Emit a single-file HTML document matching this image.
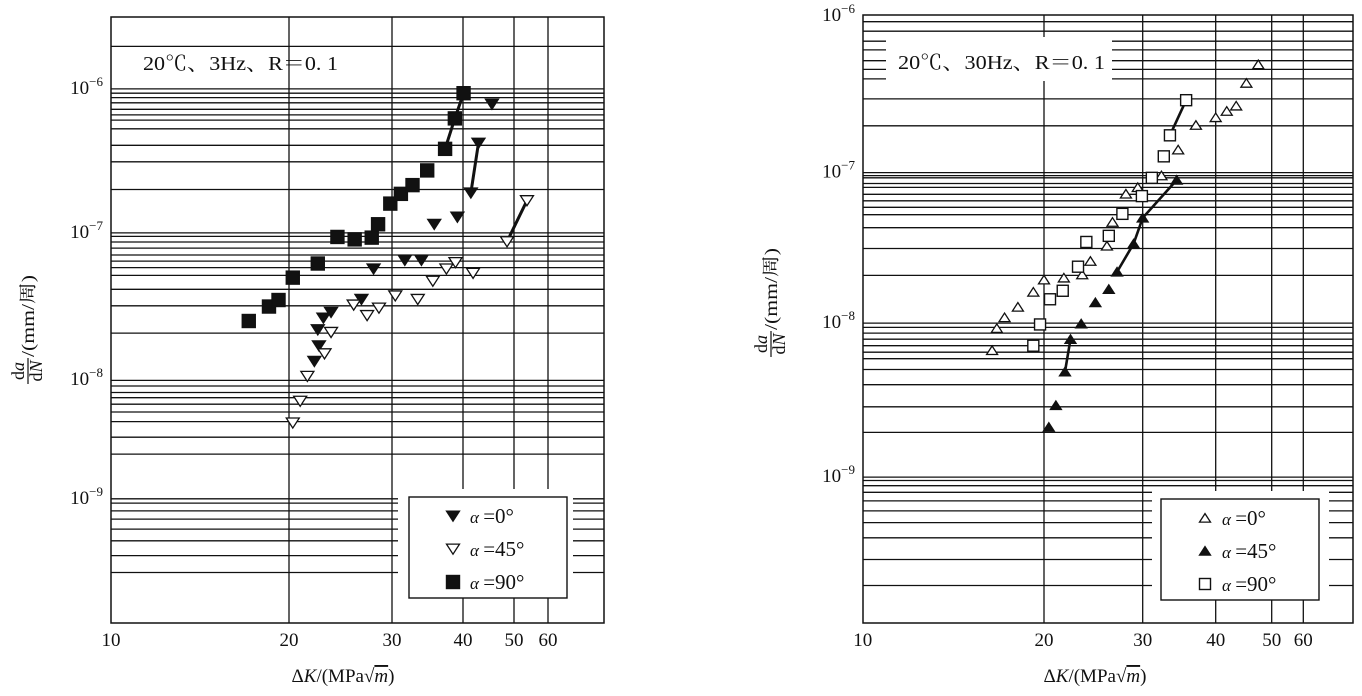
<!DOCTYPE html>
<html><head><meta charset="utf-8"><style>
html,body{margin:0;padding:0;background:#fff;}
svg{display:block;font-family:"Liberation Serif","Noto Serif CJK SC",serif;}
</style></head><body>
<svg id="fig" width="1362" height="696" viewBox="0 0 1362 696" xmlns="http://www.w3.org/2000/svg">
<rect x="0" y="0" width="1362" height="696" fill="#fff"/>
<g id="left"></g>
<g id="right"></g>
</svg>
<script>
// ---- data: left chart (3Hz) ----
const leftK0 = [45.4,42.8,41.4,39.1,35.6,33.8,31.6,27.9,26.6,23.6,22.9,22.4,22.5,22.1];
const leftRate0 = [7.86e-7,4.21e-7,1.9e-7,1.29e-7,1.15e-7,6.53e-8,6.53e-8,5.7e-8,3.54e-8,2.89e-8,2.64e-8,2.2e-8,1.71e-8,1.34e-8];
const leftK45 = [20.3,20.9,21.5,23.0,23.6,25.8,27.2,28.5,30.4,33.3,35.4,37.4,38.8,41.8,48.5,53.6];
const leftRate45 = [4.36e-9,6.64e-9,1.06e-8,1.51e-8,2.11e-8,3.24e-8,2.75e-8,3.09e-8,3.74e-8,3.54e-8,4.71e-8,5.7e-8,6.3e-8,5.33e-8,8.74e-8,1.68e-7];
const leftK90 = [17.1,18.5,19.2,20.3,22.4,24.2,25.9,27.7,28.4,29.8,31.1,32.6,34.6,37.2,38.7,40.1];
const leftRate90 = [2.52e-8,3.16e-8,3.5e-8,4.97e-8,6.2e-8,9.4e-8,9.05e-8,9.3e-8,1.15e-7,1.6e-7,1.87e-7,2.15e-7,2.72e-7,3.84e-7,6.25e-7,9.35e-7];
// ---- data: right chart (30Hz) ----
const rightK0 = [16.4,16.7,17.2,18.1,19.2,20.0,21.7,23.4,24.2,25.9,26.5,28.0,29.4,32.3,34.5,37.0,40.0,41.8,43.4,45.2,47.4];
const rightRate0 = [6.65e-9,9.25e-9,1.09e-8,1.28e-8,1.61e-8,1.94e-8,2.0e-8,2.1e-8,2.58e-8,3.26e-8,4.69e-8,7.22e-8,7.98e-8,9.55e-8,1.4e-7,2.01e-7,2.25e-7,2.47e-7,2.67e-7,3.73e-7,4.9e-7];
const rightK45 = [20.4,21.0,21.8,22.3,23.3,24.7,26.1,27.0,28.9,30.0,34.3];
const rightRate45 = [2.11e-9,2.92e-9,4.83e-9,7.86e-9,9.9e-9,1.37e-8,1.68e-8,2.19e-8,3.37e-8,5.0e-8,8.93e-8];
const rightK90 = [19.2,19.7,20.5,21.6,23.0,23.8,26.1,27.6,29.9,31.1,32.6,33.4,35.6];
const rightRate90 = [7.13e-9,9.8e-9,1.44e-8,1.64e-8,2.37e-8,3.46e-8,3.8e-8,5.32e-8,6.98e-8,9.23e-8,1.27e-7,1.73e-7,2.9e-7];
// tick labels
const xTickValues = [10,20,30,40,50,60];
const xTickLabels = ["10","20","30","40","50","60"];
const yTickValues = [1e-6,1e-7,1e-8,1e-9];
const yTickExps = ["−6","−7","−8","−9"];

const NS="http://www.w3.org/2000/svg";
function mk(tag,attrs,parent){const e=document.createElementNS(NS,tag);for(const k in attrs)e.setAttribute(k,attrs[k]);if(parent)parent.appendChild(e);return e;}
function logScale(vals,px){
  const lv=vals.map(v=>Math.log10(v));
  return function(v){
    const l=Math.log10(v);let i=0;
    if((lv[1]-lv[0])>0){while(i<lv.length-2&&l>lv[i+1])i++;}
    else{while(i<lv.length-2&&l<lv[i+1])i++;}
    return px[i]+(l-lv[i])/(lv[i+1]-lv[i])*(px[i+1]-px[i]);
  };
}

function chart(g,cfg){
  const X=logScale(xTickValues,cfg.xPx), Y=logScale(yTickValues,cfg.yPx);
  const st={stroke:"#111","stroke-width":1.3,fill:"none"};
  cfg.grid.forEach(y=>{
    if(y>=490){
      const a=mk("line",Object.assign({x1:cfg.L,x2:cfg.gapL,y1:y,y2:y},st),g);
      
      
      const b=mk("line",Object.assign({x1:cfg.gapR,x2:cfg.R,y1:y,y2:y},st),g);
      
      
    } else {
      const a=mk("line",Object.assign({x1:cfg.L,x2:cfg.R,y1:y,y2:y},st),g);
      
      
    }
  });
  xTickValues.forEach((v,i)=>{
    if(i===0)return;
    const x=X(v);
    if(x>cfg.legX && x<cfg.legX+cfg.legW){
      const a=mk("line",Object.assign({x1:x,x2:x,y1:cfg.T,y2:cfg.legY-8},st),g);
      
      
      const b=mk("line",Object.assign({x1:x,x2:x,y1:cfg.legY+cfg.legH,y2:cfg.B},st),g);
      
      
    } else {
      const a=mk("line",Object.assign({x1:x,x2:x,y1:cfg.T,y2:cfg.B},st),g);
      
      
    }
  });
  if(cfg.titleBg){const r=mk("rect",{x:cfg.titleBg[0],y:cfg.titleBg[1],width:cfg.titleBg[2],height:cfg.titleBg[3],fill:"#fff"},g);
    
    }
  const tt=mk("text",{x:cfg.titleX,y:cfg.titleY,"font-size":20,fill:"#111",textLength:cfg.titleLen,lengthAdjust:"spacingAndGlyphs"},g);
  tt.textContent=cfg.title;
  
  
  const fr=mk("rect",{x:cfg.L,y:cfg.T,width:cfg.R-cfg.L,height:cfg.B-cfg.T,fill:"none",stroke:"#111","stroke-width":1.5},g);
  
  
  xTickValues.forEach((v,i)=>{
    const t=mk("text",{x:X(v),y:646,"text-anchor":"middle","font-size":19,fill:"#111"},g);
    t.textContent=xTickLabels[i];
    
    
  });
  yTickValues.forEach((v,i)=>{
    const t=mk("text",{x:cfg.L-8,y:Y(v)+5,"text-anchor":"end","font-size":19,fill:"#111"},g);
    const a=mk("tspan",{},t);a.textContent="10";
    const b=mk("tspan",{dy:-8,"font-size":13},t);b.textContent=yTickExps[i];
    
    
  });
  const xt=mk("text",{x:cfg.xTitleX,y:682,"text-anchor":"middle","font-size":19,fill:"#111"},g);
  
  
  let s=mk("tspan",{},xt);s.textContent="Δ";
  s=mk("tspan",{"font-style":"italic"},xt);s.textContent="K";
  s=mk("tspan",{},xt);s.textContent="/(MPa√";
  s=mk("tspan",{"font-style":"italic","text-decoration":"overline"},xt);s.textContent="m";
  s=mk("tspan",{},xt);s.textContent=")";
  const yg=mk("g",{transform:`translate(${cfg.yTitle[0]},${cfg.yTitle[1]}) rotate(-90)`},g);
  
  
  let d1=mk("text",{x:-44,y:-3,"text-anchor":"middle","font-size":18,fill:"#111"},yg);
  s=mk("tspan",{},d1);s.textContent="d";s=mk("tspan",{"font-style":"italic"},d1);s.textContent="a";
  mk("line",{x1:-57,x2:-31,y1:1,y2:1,stroke:"#111","stroke-width":1.2},yg);
  let d2=mk("text",{x:-44,y:15,"text-anchor":"middle","font-size":18,fill:"#111"},yg);
  s=mk("tspan",{},d2);s.textContent="d";s=mk("tspan",{"font-style":"italic"},d2);s.textContent="N";
  const ym=mk("text",{x:-30,y:7,"font-size":18,fill:"#111",textLength:82,lengthAdjust:"spacingAndGlyphs"},yg);ym.textContent="/(mm/周)";

  cfg.series.forEach(se=>{
    se.links.forEach(link=>{
      const pts=link.map(i=>X(se.k[i])+","+Y(se.r[i])).join(" ");
      const pl=mk("polyline",{points:pts,fill:"none",stroke:"#111","stroke-width":cfg.linkW},g);
      
      
    });
  });
  function marker(type,cx,cy,sz,parent){
    const h=sz/2;let e;
    if(type==="sq-fill"||type==="sq-open"){
      e=mk("rect",{x:cx-h,y:cy-h,width:sz,height:sz,fill:type==="sq-fill"?"#111":"#fff",stroke:"#111","stroke-width":1.4},parent);
    } else if(type.startsWith("down")){
      e=mk("polygon",{points:`${cx-h},${cy-h*0.75} ${cx+h},${cy-h*0.75} ${cx},${cy+h*0.8}`,fill:type==="down-fill"?"#111":"#fff",stroke:"#111","stroke-width":1.3},parent);
    } else {
      e=mk("polygon",{points:`${cx-h},${cy+h*0.75} ${cx+h},${cy+h*0.75} ${cx},${cy-h*0.8}`,fill:type==="up-fill"?"#111":"#fff",stroke:"#111","stroke-width":1.3},parent);
    }
    return e;
  }
  cfg.series.forEach(se=>{
    se.k.forEach((k,i)=>{
      const m=marker(se.type,X(k),Y(se.r[i]),cfg.msz,g);
      
      
    });
  });
  const lg=mk("g",{},g);
  
  
  mk("rect",{x:cfg.legX,y:cfg.legY,width:cfg.legW,height:cfg.legH,fill:"#fff",stroke:"#111","stroke-width":1.4},lg);
  cfg.series.forEach((se,i)=>{
    const cy=cfg.legY+19+i*33;
    const eg=mk("g",{},lg);
    
    
    marker(se.type,cfg.legMX,cy,cfg.msz,eg);
    const t=mk("text",{x:cfg.legMX+17,y:cy+7,"font-size":21,fill:"#111"},eg);
    const a=mk("tspan",{"font-style":"italic","font-size":17},t);a.textContent="α ";
    const b=mk("tspan",{},t);b.textContent="="+se.label+"°";
  });
}

chart(document.getElementById("left"),{
  L:111,R:604,T:17,B:623,
  xPx:[111,289,392,463,514,548], yPx:[89,233,380,499],
  grid:[46.4,88.9,93.2,97.6,102.8,109.3,114.9,120.1,128.8,145.3,161.8,189.5,232.9,236.4,242,248.1,255,261.1,267.6,275.4,289.3,305.8,333.1,380.4,386,392.5,397.7,404.2,412,421.6,437.2,454.1,498.8,503.1,510.9,519.1,529.1,540.8,555.6,572.5],
  gapL:398,gapR:573,
  legX:409,legY:497,legW:158,legH:101,legMX:453,
  title:"20℃、3Hz、R＝0. 1",titleX:143,titleY:70,titleLen:195,titleBg:null,
  xTitleX:343,yTitle:[27,327],
  msz:13,linkW:3,
  series:[
    {id:"alpha-0",type:"down-fill",k:leftK0,r:leftRate0,links:[[1,2]],label:"0"},
    {id:"alpha-45",type:"down-open",k:leftK45,r:leftRate45,links:[[14,15]],label:"45"},
    {id:"alpha-90",type:"sq-fill",k:leftK90,r:leftRate90,links:[[13,14,15]],label:"90"}
  ]
});
chart(document.getElementById("right"),{
  L:863,R:1353,T:15,B:623,
  xPx:[862.7,1044,1142.7,1215.7,1271.7,1303.3], yPx:[16,172.6,323.1,477],
  grid:[21.7,31.2,41.2,49.9,60.7,69.4,78.9,98.9,125.8,172.6,175.6,177.8,183.5,187.4,194.3,200.8,207.3,214.7,227.7,248.5,275.4,323.1,327.4,333.1,339.2,345.7,352.2,358.7,369.5,384.7,406.8,432.4,477.1,480.5,485.7,492.3,500.9,510.9,522.6,537.8,559.5,585.5],
  gapL:1152,gapR:1329,
  legX:1161,legY:499,legW:158,legH:101,legMX:1205,
  title:"20℃、30Hz、R＝0. 1",titleX:898,titleY:69,titleLen:207,titleBg:[886,37,226,44],
  xTitleX:1095,yTitle:[770,300],
  msz:11,linkW:2.6,
  series:[
    {id:"alpha-0",type:"up-open",k:rightK0,r:rightRate0,links:[],label:"0"},
    {id:"alpha-45",type:"up-fill",k:rightK45,r:rightRate45,links:[[2,3],[7,8,9,10]],label:"45"},
    {id:"alpha-90",type:"sq-open",k:rightK90,r:rightRate90,links:[[11,12]],label:"90"}
  ]
});
</script>
</body></html>
